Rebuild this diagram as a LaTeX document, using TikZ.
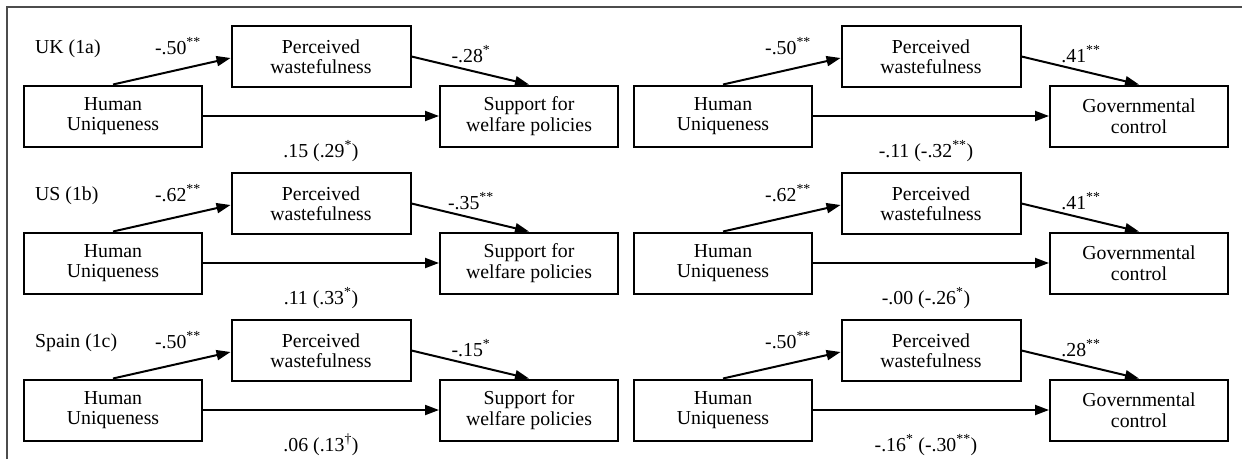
\documentclass[tikz,border=0pt]{standalone}
\usepackage{fontspec}
\setmainfont{Liberation Serif}
\usetikzlibrary{arrows.meta}
\newcommand\mypanel[8]{%
  \begin{scope}[shift={(#2,#3)}]
    \node[hubox] (hu#1) at (113,116) {Human\\Uniqueness};
    \node[pwbox] (pw#1) at (321,56.5) {Perceived\\wastefulness};
    \node[hubox] (dv#1) at (529,116) {#4};
    \draw[link] (hu#1.north) -- ([yshift=-1.5pt]pw#1.west);
    \draw[link] (pw#1.east) -- (dv#1.north);
    \draw[link] (hu#1.east) -- (dv#1.west);
    \node[coef] (ca#1) at (178,54) {#5};
    \node[coef] (cb#1) at (471,62) {#6};
    \node[coef] (cc#1) at (#8,157) {#7};
  \end{scope}}
\begin{document}
\begin{tikzpicture}[x=1pt,y=-1pt,
  txt/.style={font=\fontsize{19.8}{20.5}\selectfont},
  box/.style={draw, line width=2pt, align=center, inner sep=0pt, txt},
  hubox/.style={box, minimum width=178pt, minimum height=61pt},
  pwbox/.style={box, minimum width=179pt, minimum height=61pt},
  coef/.style={anchor=base, inner sep=0pt, txt},
  tagtext/.style={anchor=base west, inner sep=0pt, txt},
  link/.style={line width=2pt, -{Triangle[length=14pt,width=10pt]}},
  frameline/.style={line width=1.5pt, black!70}
]
\useasboundingbox (0,0) rectangle (1242,459);
\coordinate (fa) at (7,459);
\coordinate (fb) at (7,7);
\coordinate (fc) at (1242,7);
\draw[frameline] (fa) -- (fb) -- (fc);

\node[tagtext] (tag1) at (35,53) {UK (1a)};
\node[tagtext] (tag2) at (35,200) {US (1b)};
\node[tagtext] (tag3) at (35,347) {Spain (1c)};

\mypanel{L1}{0}{0}{Support for\\welfare policies}{-.50\textsuperscript{**}}{-.28\textsuperscript{*}}{.15 (.29\textsuperscript{*})}{321}
\mypanel{R1}{610}{0}{Governmental\\control}{-.50\textsuperscript{**}}{.41\textsuperscript{**}}{-.11 (-.32\textsuperscript{**})}{316}
\mypanel{L2}{0}{147}{Support for\\welfare policies}{-.62\textsuperscript{**}}{-.35\textsuperscript{**}}{.11 (.33\textsuperscript{*})}{321}
\mypanel{R2}{610}{147}{Governmental\\control}{-.62\textsuperscript{**}}{.41\textsuperscript{**}}{-.00 (-.26\textsuperscript{*})}{316}
\mypanel{L3}{0}{294}{Support for\\welfare policies}{-.50\textsuperscript{**}}{-.15\textsuperscript{*}}{.06 (.13\textsuperscript{\textdagger})}{321}
\mypanel{R3}{610}{294}{Governmental\\control}{-.50\textsuperscript{**}}{.28\textsuperscript{**}}{-.16\textsuperscript{*} (-.30\textsuperscript{**})}{316}
\end{tikzpicture}
\end{document}
